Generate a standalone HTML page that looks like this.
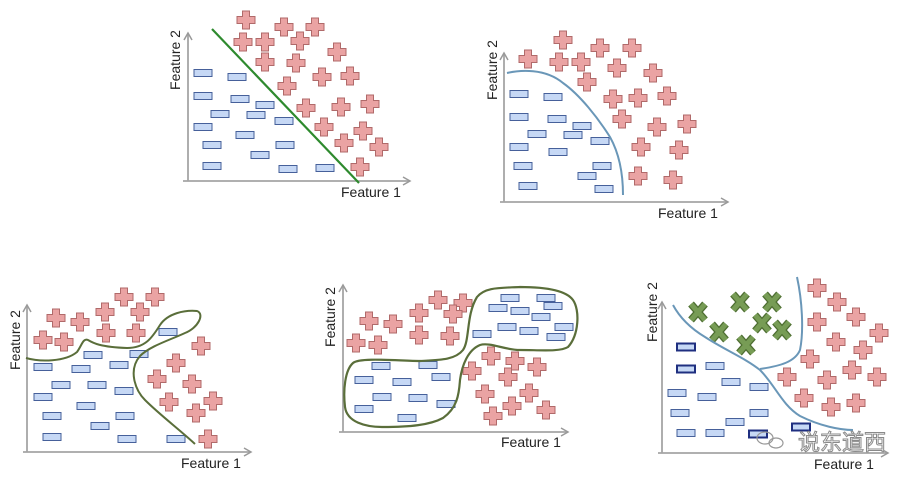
<!DOCTYPE html>
<html><head><meta charset="utf-8"><style>
html,body{margin:0;padding:0;background:#fff;}
svg{display:block;}
text{font-family:"Liberation Sans",sans-serif;font-size:14px;fill:#222;}
</style></head><body>
<svg width="913" height="482" viewBox="0 0 913 482" xmlns="http://www.w3.org/2000/svg">
<defs>
<path id="p" d="M-3.5,-9h7v5.5h5.5v7h-5.5v5.5h-7v-5.5h-5.5v-7h5.5z" fill="#eaa3a3" stroke="#b06a6a" stroke-width="1"/>
<rect id="m" x="-9" y="-3.5" width="18" height="7" fill="#c6d8f5" stroke="#46609a" stroke-width="1"/>
<rect id="md" x="-9" y="-3.5" width="18" height="7" fill="#c6d8f5" stroke="#1f2f80" stroke-width="2"/>
<g id="x"><path d="M-7,-8L7,8M7,-8L-7,8" stroke="#4e6e32" stroke-width="7.5"/><path d="M-7,-8L7,8M7,-8L-7,8" stroke="#779c55" stroke-width="5"/></g>
<marker id="ar" markerWidth="10" markerHeight="10" refX="8" refY="5" orient="auto" markerUnits="userSpaceOnUse"><path d="M1,1L8,5L1,9" fill="none" stroke="#999" stroke-width="1.5"/></marker>
</defs>
<g stroke="#a5a5a5" stroke-width="1.8" fill="none" marker-end="url(#ar)">
<path d="M188,181V33"/><path d="M183,181H410"/>
<path d="M504,202V53"/><path d="M500,202H728"/>
<path d="M27,452V305"/><path d="M23,452H251"/>
<path d="M343,432V285"/><path d="M339,432H568"/>
<path d="M662,453V302"/><path d="M658,453H888"/>
</g>
<text x="341" y="197">Feature 1</text>
<text transform="translate(180,60) rotate(-90)" text-anchor="middle">Feature 2</text>
<text x="658" y="218">Feature 1</text>
<text transform="translate(497,70) rotate(-90)" text-anchor="middle">Feature 2</text>
<text x="181" y="468">Feature 1</text>
<text transform="translate(20,340) rotate(-90)" text-anchor="middle">Feature 2</text>
<text x="501" y="447">Feature 1</text>
<text transform="translate(335,317) rotate(-90)" text-anchor="middle">Feature 2</text>
<text x="814" y="469">Feature 1</text>
<text transform="translate(657,312) rotate(-90)" text-anchor="middle">Feature 2</text>

<!-- Panel 1 -->
<g>
<use href="#m" x="203" y="73"/><use href="#m" x="237" y="77"/><use href="#m" x="203" y="96"/><use href="#m" x="240" y="99"/><use href="#m" x="265" y="105"/><use href="#m" x="220" y="114"/><use href="#m" x="256" y="115"/><use href="#m" x="284" y="121"/><use href="#m" x="203" y="127"/><use href="#m" x="245" y="135"/><use href="#m" x="212" y="145"/><use href="#m" x="285" y="145"/><use href="#m" x="260" y="155"/><use href="#m" x="212" y="166"/><use href="#m" x="288" y="169"/><use href="#m" x="325" y="168"/>
<use href="#p" x="246" y="20"/><use href="#p" x="284" y="27"/><use href="#p" x="315" y="27"/><use href="#p" x="243" y="42"/><use href="#p" x="265" y="42"/><use href="#p" x="300" y="41"/><use href="#p" x="337" y="52"/><use href="#p" x="265" y="62"/><use href="#p" x="296" y="63"/><use href="#p" x="322" y="77"/><use href="#p" x="350" y="76"/><use href="#p" x="287" y="86"/><use href="#p" x="306" y="108"/><use href="#p" x="341" y="107"/><use href="#p" x="370" y="104"/><use href="#p" x="324" y="127"/><use href="#p" x="363" y="131"/><use href="#p" x="344" y="143"/><use href="#p" x="379" y="147"/><use href="#p" x="360" y="167"/>
<path d="M212,29L359,183" stroke="#2e8a2e" stroke-width="2.2"/>
</g>

<!-- Panel 2 -->
<g>
<use href="#m" x="519" y="94"/><use href="#m" x="553" y="97"/><use href="#m" x="519" y="117"/><use href="#m" x="557" y="119"/><use href="#m" x="582" y="126"/><use href="#m" x="537" y="134"/><use href="#m" x="573" y="135"/><use href="#m" x="600" y="141"/><use href="#m" x="519" y="147"/><use href="#m" x="558" y="152"/><use href="#m" x="523" y="166"/><use href="#m" x="602" y="166"/><use href="#m" x="587" y="176"/><use href="#m" x="528" y="186"/><use href="#m" x="604" y="189"/>
<use href="#p" x="563" y="40"/><use href="#p" x="528" y="59"/><use href="#p" x="559" y="62"/><use href="#p" x="581" y="62"/><use href="#p" x="600" y="48"/><use href="#p" x="632" y="48"/><use href="#p" x="617" y="68"/><use href="#p" x="587" y="82"/><use href="#p" x="653" y="73"/><use href="#p" x="613" y="99"/><use href="#p" x="638" y="98"/><use href="#p" x="667" y="96"/><use href="#p" x="622" y="119"/><use href="#p" x="657" y="127"/><use href="#p" x="687" y="124"/><use href="#p" x="641" y="147"/><use href="#p" x="679" y="150"/><use href="#p" x="638" y="176"/><use href="#p" x="673" y="180"/>
<path d="M507,73C520,70 545,68 563,83C580,95 598,118 610,137C620,155 623,175 623,195" fill="none" stroke="#6a97b8" stroke-width="2"/>
</g>

<!-- Panel 3 -->
<g>
<use href="#m" x="168" y="332"/><use href="#m" x="93" y="355"/><use href="#m" x="139" y="354"/><use href="#m" x="43" y="367"/><use href="#m" x="81" y="369"/><use href="#m" x="119" y="365"/><use href="#m" x="61" y="385"/><use href="#m" x="97" y="385"/><use href="#m" x="124" y="391"/><use href="#m" x="43" y="397"/><use href="#m" x="86" y="406"/><use href="#m" x="52" y="416"/><use href="#m" x="125" y="416"/><use href="#m" x="100" y="426"/><use href="#m" x="52" y="437"/><use href="#m" x="127" y="439"/><use href="#m" x="176" y="439"/>
<use href="#p" x="124" y="297"/><use href="#p" x="155" y="297"/><use href="#p" x="105" y="312"/><use href="#p" x="140" y="312"/><use href="#p" x="56" y="318"/><use href="#p" x="80" y="322"/><use href="#p" x="43" y="340"/><use href="#p" x="64" y="342"/><use href="#p" x="106" y="333"/><use href="#p" x="136" y="333"/><use href="#p" x="201" y="346"/><use href="#p" x="176" y="363"/><use href="#p" x="157" y="379"/><use href="#p" x="192" y="384"/><use href="#p" x="169" y="402"/><use href="#p" x="213" y="401"/><use href="#p" x="196" y="413"/><use href="#p" x="208" y="439"/>
<path d="M26,358C40,362 65,362 77,352C82,345 83,338 88,340C93,343 100,347 127,348C145,348 152,338 160,325C168,313 185,310 197,311C205,314 198,328 185,333C170,340 150,346 140,356C128,370 135,390 145,400C160,415 180,430 195,444" fill="none" stroke="#5a6e3a" stroke-width="2"/>
</g>

<!-- Panel 4 -->
<g>
<use href="#m" x="510" y="298"/><use href="#m" x="546" y="298"/><use href="#m" x="498" y="308"/><use href="#m" x="520" y="311"/><use href="#m" x="553" y="306"/><use href="#m" x="541" y="317"/><use href="#m" x="482" y="334"/><use href="#m" x="507" y="327"/><use href="#m" x="529" y="331"/><use href="#m" x="564" y="327"/><use href="#m" x="556" y="337"/><use href="#m" x="381" y="366"/><use href="#m" x="428" y="365"/><use href="#m" x="364" y="380"/><use href="#m" x="402" y="382"/><use href="#m" x="441" y="377"/><use href="#m" x="382" y="397"/><use href="#m" x="418" y="398"/><use href="#m" x="446" y="404"/><use href="#m" x="364" y="409"/><use href="#m" x="407" y="418"/>
<use href="#p" x="438" y="300"/><use href="#p" x="463" y="303"/><use href="#p" x="369" y="321"/><use href="#p" x="393" y="324"/><use href="#p" x="419" y="313"/><use href="#p" x="453" y="314"/><use href="#p" x="356" y="343"/><use href="#p" x="378" y="345"/><use href="#p" x="419" y="335"/><use href="#p" x="450" y="336"/><use href="#p" x="491" y="356"/><use href="#p" x="515" y="361"/><use href="#p" x="537" y="367"/><use href="#p" x="472" y="371"/><use href="#p" x="508" y="377"/><use href="#p" x="485" y="394"/><use href="#p" x="529" y="393"/><use href="#p" x="512" y="406"/><use href="#p" x="546" y="410"/><use href="#p" x="493" y="416"/>
<path d="M345,407C343,390 345,370 353,363C360,357 400,361 420,361C440,360 455,360 463,350C470,340 466,315 477,297C485,287 500,288 520,287C540,287 565,289 573,300C580,310 579,335 568,347C560,352 540,350 520,350C505,350 490,342 480,345C468,350 462,365 460,380C459,395 457,408 443,418C430,425 410,427 383,427C365,427 347,422 345,407Z" fill="none" stroke="#5a6e3a" stroke-width="2.2"/>
</g>

<!-- Panel 5 -->
<g>
<use href="#md" x="686" y="347"/><use href="#md" x="686" y="369"/><use href="#m" x="715" y="366"/><use href="#m" x="731" y="382"/><use href="#m" x="759" y="387"/><use href="#m" x="677" y="393"/><use href="#m" x="707" y="397"/><use href="#m" x="680" y="413"/><use href="#m" x="759" y="413"/><use href="#m" x="735" y="422"/><use href="#md" x="801" y="427"/><use href="#m" x="686" y="433"/><use href="#m" x="715" y="433"/><use href="#md" x="758" y="434"/>
<use href="#p" x="817" y="288"/><use href="#p" x="837" y="302"/><use href="#p" x="817" y="322"/><use href="#p" x="856" y="317"/><use href="#p" x="879" y="333"/><use href="#p" x="836" y="342"/><use href="#p" x="863" y="350"/><use href="#p" x="810" y="359"/><use href="#p" x="852" y="370"/><use href="#p" x="787" y="377"/><use href="#p" x="827" y="380"/><use href="#p" x="877" y="377"/><use href="#p" x="804" y="398"/><use href="#p" x="856" y="403"/><use href="#p" x="831" y="407"/>
<use href="#x" x="698" y="312"/><use href="#x" x="740" y="302"/><use href="#x" x="772" y="302"/><use href="#x" x="719" y="332"/><use href="#x" x="762" y="323"/><use href="#x" x="782" y="330"/><use href="#x" x="746" y="345"/>
<path d="M673,305C680,318 690,328 705,337C725,350 745,358 760,370C775,385 782,405 800,416C820,426 840,430 853,430" fill="none" stroke="#6a97b8" stroke-width="2"/>
<path d="M797,277C802,300 804,330 800,350C795,362 780,366 760,369" fill="none" stroke="#6a97b8" stroke-width="2"/>
<g fill="none" stroke="#999" stroke-width="1.2"><ellipse cx="765" cy="438" rx="8" ry="6"/><ellipse cx="776" cy="443" rx="7" ry="5"/></g>
<text x="798" y="450" style="font-family:'Liberation Sans','Noto Sans CJK SC',sans-serif;font-size:22px;fill:#fff;stroke:#8a8a8a;stroke-width:1">说东道西</text>
</g>
</svg>
</body></html>
